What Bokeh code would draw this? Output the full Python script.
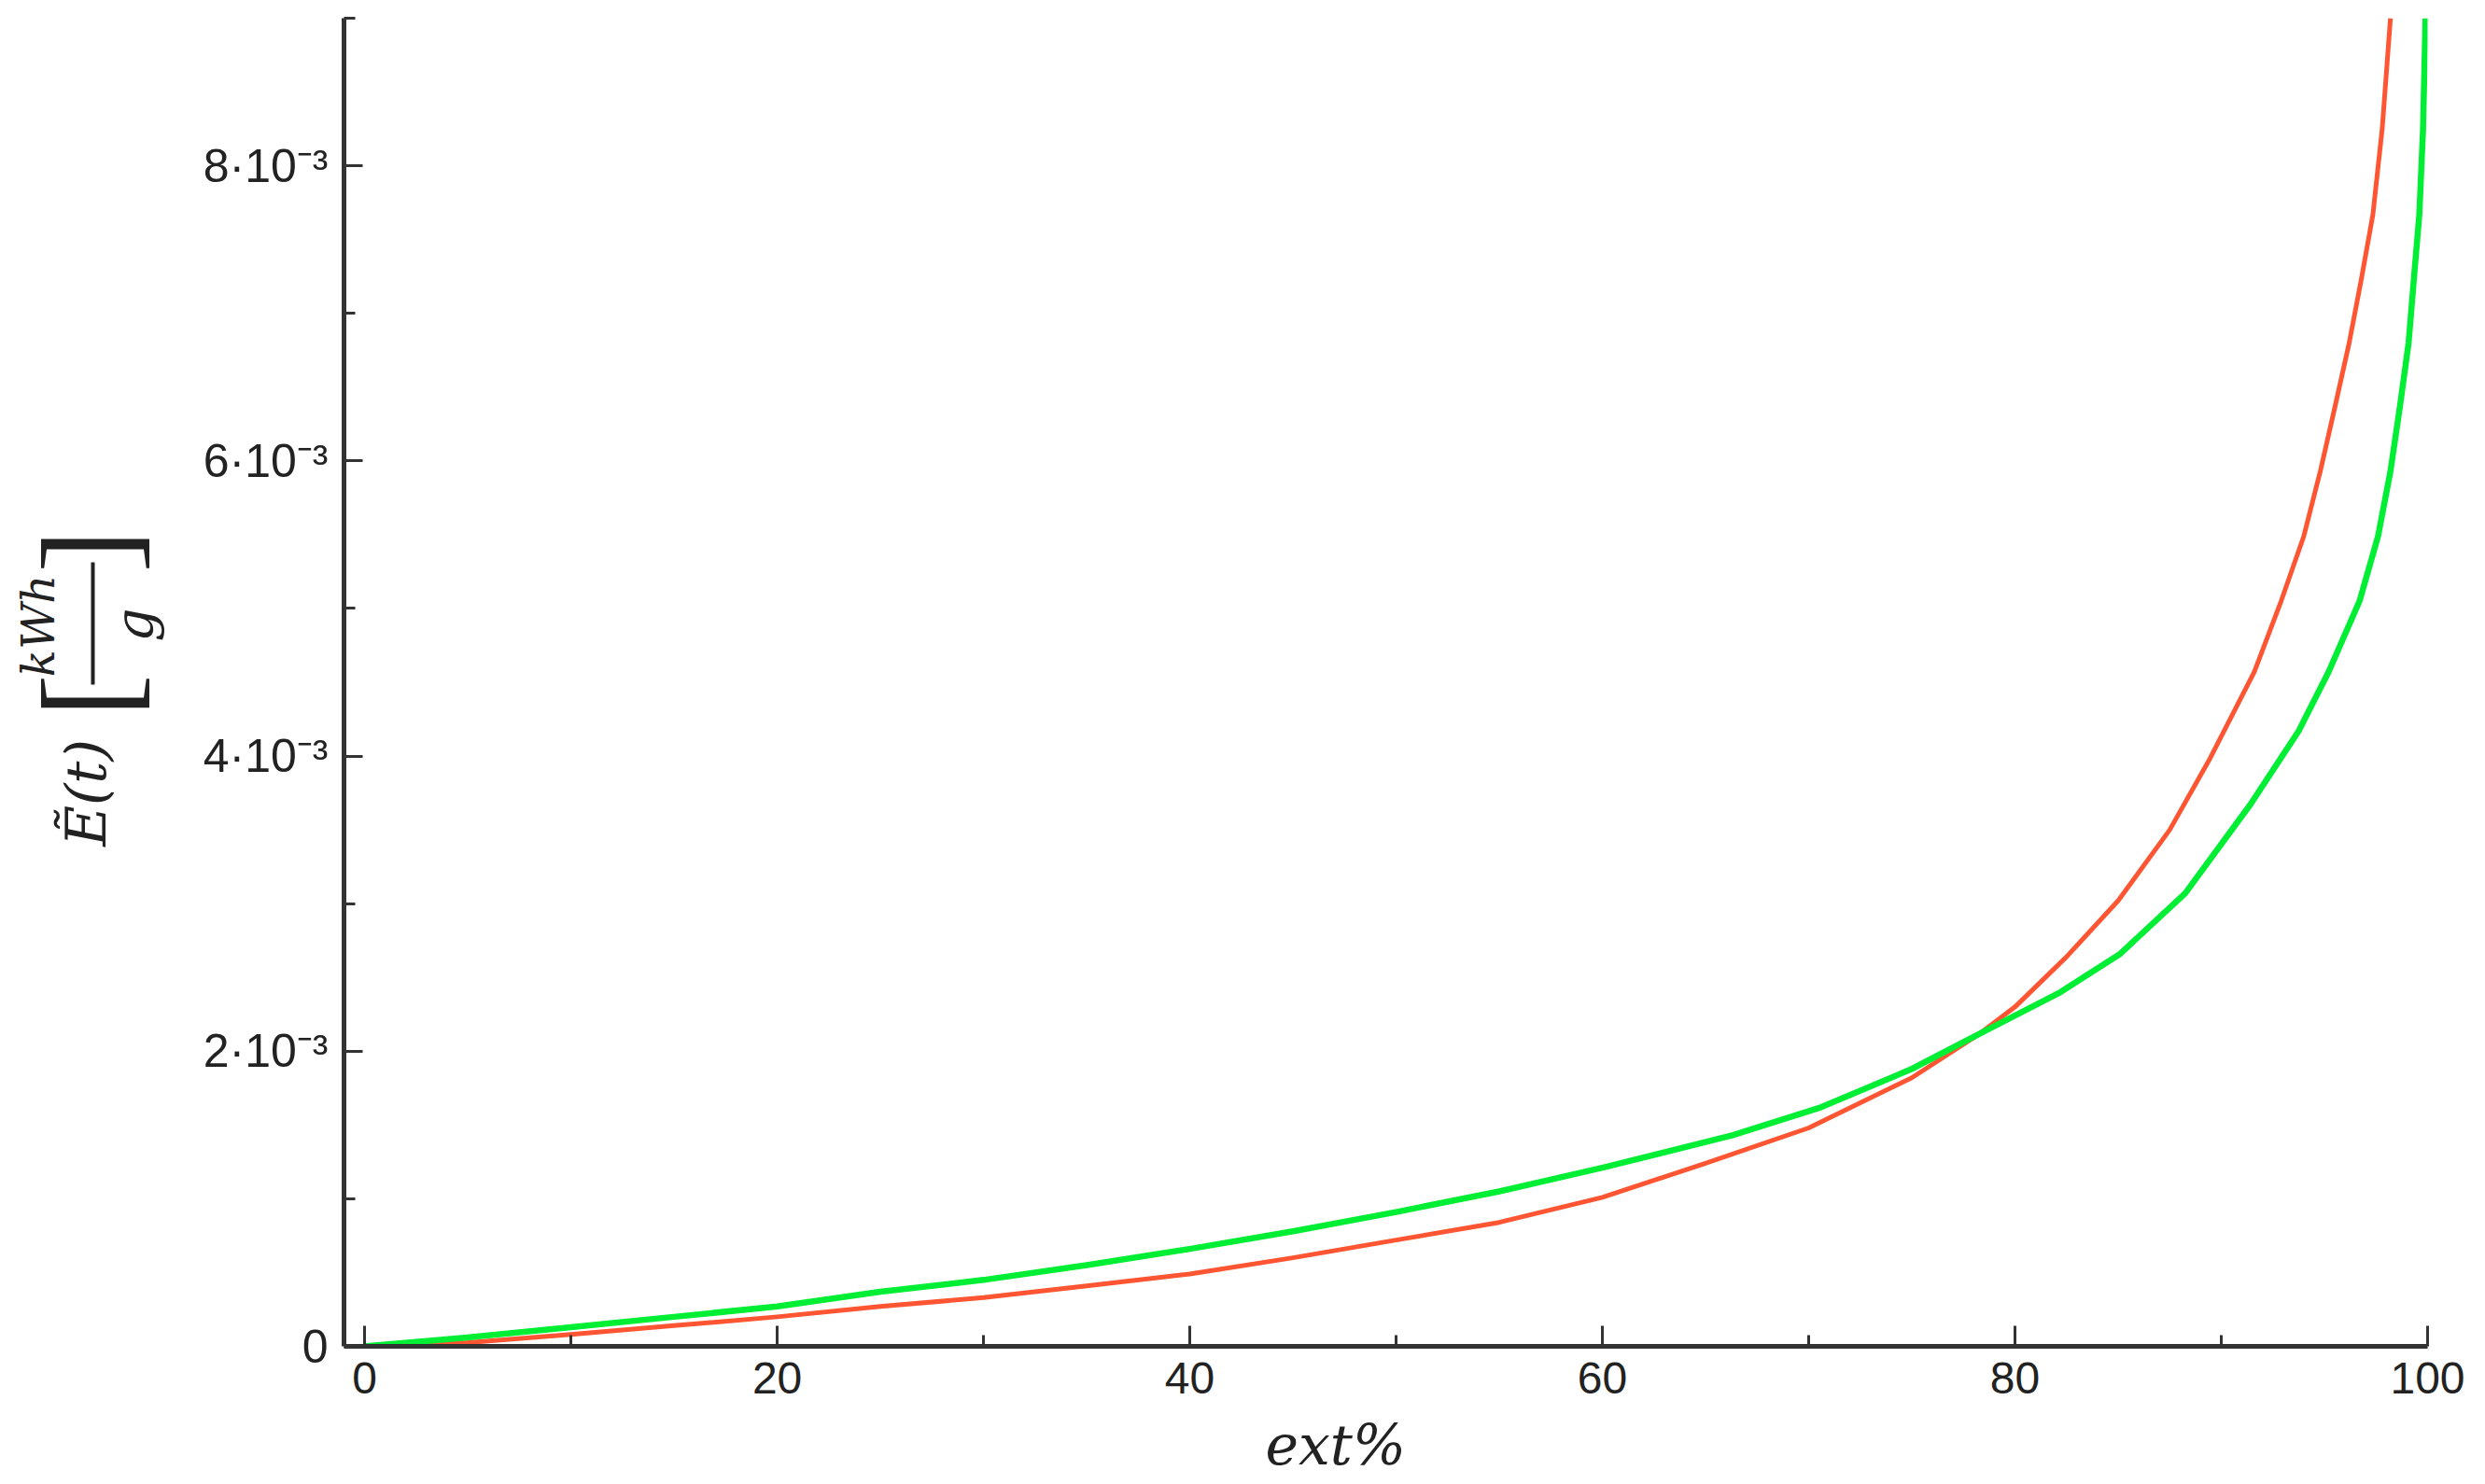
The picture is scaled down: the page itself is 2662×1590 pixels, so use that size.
import math
from bokeh.plotting import figure
from bokeh.layouts import row, column
from bokeh.models import FixedTicker, Label
from bokeh.embed import file_html
from bokeh.resources import INLINE

# ---- data ----
ext_red = [0, 5, 10, 15, 20, 25, 30, 35, 40, 45, 50, 55, 60, 65, 70, 75, 78.3,
           80, 82.5, 85, 87.5, 89.4, 91.6, 92.9, 94.0, 94.8, 95.5, 96.2, 96.8,
           97.35, 97.8, 98.2]
E_red_milli = [0, 0.025, 0.08, 0.14, 0.20, 0.27, 0.33, 0.41, 0.49, 0.60, 0.72,
               0.84, 1.01, 1.24, 1.48, 1.82, 2.12, 2.30, 2.64, 3.02, 3.50, 3.97,
               4.57, 5.05, 5.49, 5.93, 6.36, 6.80, 7.24, 7.67, 8.25, 9.0]

ext_green = [0, 5, 10, 15, 20, 25, 30, 35, 40, 45, 50, 55, 60, 66.3, 70.6, 75,
             78.3, 82.2, 85.1, 88.25, 91.4, 93.75, 95.2, 96.7, 97.6, 98.2, 98.65,
             99.08, 99.34, 99.6, 99.78, 99.9]
E_green_milli = [0, 0.06, 0.13, 0.20, 0.27, 0.37, 0.45, 0.55, 0.66, 0.78, 0.91,
                 1.05, 1.21, 1.43, 1.62, 1.88, 2.12, 2.40, 2.66, 3.07, 3.67, 4.17,
                 4.57, 5.05, 5.49, 5.93, 6.36, 6.80, 7.24, 7.67, 8.25, 9.0]

E_red = [v * 1e-3 for v in E_red_milli]
E_green = [v * 1e-3 for v in E_green_milli]

x_ticks = [0, 20, 40, 60, 80, 100]
x_minor = [10, 30, 50, 70, 90]
y_ticks = [0, 0.002, 0.004, 0.006, 0.008]
y_minor = [0.001, 0.003, 0.005, 0.007, 0.009]
y_tick_labels = ["0", "2·10⁻³", "4·10⁻³", "6·10⁻³", "8·10⁻³"]

x_label = "ext%"
y_label_main = "Ẽ(t)"
y_label_num = "kWh"
y_label_den = "g"

TOTAL_H = 1588
LEFT_W = 208
MAIN_W = 2446
MAIN_H = 1512

# ---- main chart ----
p = figure(width=MAIN_W, height=MAIN_H, x_range=(-1.0, 100), y_range=(0, 0.009),
           output_backend="svg", toolbar_location=None,
           min_border_left=160, min_border_right=54,
           min_border_top=19, min_border_bottom=70)
p.grid.visible = False
p.outline_line_color = None
p.background_fill_color = "white"
p.border_fill_color = "white"

axis_col = "#333333"
for ax in (p.xaxis[0], p.yaxis[0]):
    ax.axis_line_width = 5
    ax.axis_line_color = axis_col
    ax.major_tick_line_width = 3
    ax.minor_tick_line_width = 3
    ax.major_tick_line_color = axis_col
    ax.minor_tick_line_color = axis_col
    ax.major_tick_out = 0
    ax.minor_tick_out = 0
    ax.major_label_text_font = "Liberation Sans"
    ax.major_label_text_color = "#222222"

p.xaxis.major_label_text_font_size = "48px"
p.yaxis.major_label_text_font_size = "50px"
p.xaxis.major_tick_in = 22
p.xaxis.minor_tick_in = 12
p.yaxis.major_tick_in = 20
p.yaxis.minor_tick_in = 12
p.xaxis.ticker = FixedTicker(ticks=x_ticks, minor_ticks=x_minor)
p.yaxis.ticker = FixedTicker(ticks=y_ticks, minor_ticks=y_minor)
p.yaxis.major_label_overrides = dict(zip(y_ticks, y_tick_labels))
p.xaxis.major_label_standoff = 17
p.yaxis.major_label_standoff = 17

p.line(ext_red, E_red, line_color="#FF5533", line_width=5, line_join="round")
p.line(ext_green, E_green, line_color="#00EE33", line_width=6.5, line_join="round")

serif = "DejaVu Serif"
ink = "#222222"


def blank(w, h):
    f = figure(width=w, height=h, x_range=(0, w), y_range=(0, h),
               output_backend="svg", toolbar_location=None, min_border=0)
    f.axis.visible = False
    f.grid.visible = False
    f.outline_line_color = None
    f.background_fill_color = "white"
    f.border_fill_color = "white"
    return f


def add_label(f, txt, x, y, size, angle=0.0, font=serif, style="italic"):
    f.add_layout(Label(x=x, y=y, text=txt, angle=angle,
                       text_align="center", text_baseline="middle",
                       text_font=font, text_font_style=style,
                       text_font_size=size, text_color=ink))


# ---- y-axis title panel (left) ----
ypan = blank(LEFT_W, TOTAL_H)
rot = math.pi / 2
add_label(ypan, y_label_main, 91, 739, "60px", rot)
add_label(ypan, "[", 93, 843, "140px", rot, font="Liberation Serif", style="normal")
add_label(ypan, "]", 93, 998, "140px", rot, font="Liberation Serif", style="normal")
add_label(ypan, y_label_num, 40, 918, "48px", rot)
add_label(ypan, y_label_den, 144, 919, "56px", rot)
ypan.segment(x0=[99], y0=[855], x1=[99], y1=[986], line_width=4, line_color=ink)

# ---- x-axis title panel (below) ----
xpan = blank(MAIN_W, TOTAL_H - MAIN_H)
add_label(xpan, x_label, 1164, 41, "60px")

layout = row(ypan, column(p, xpan, spacing=0), spacing=0)

open("out.html", "w").write(file_html(layout, INLINE))
